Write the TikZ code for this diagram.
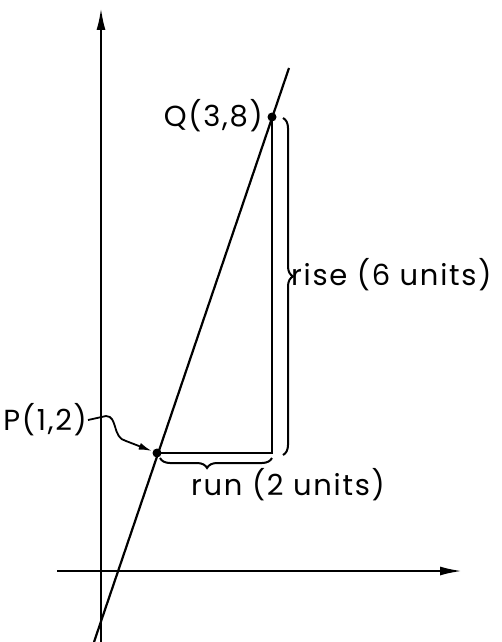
\documentclass[tikz,border=0pt]{standalone}
\usepackage{fontspec}
\setmainfont{Poppins}[LetterSpace=6]
\usetikzlibrary{arrows.meta,decorations.pathreplacing}

\begin{document}
\begin{tikzpicture}[x=1pt,y=-1pt,line width=2.2pt,>={Latex[length=22pt,width=9pt]},
  pt/.style={circle,fill,inner sep=0pt,minimum size=9pt},
  lab/.style={font=\fontsize{29}{33}\selectfont,inner sep=0pt},
  brc/.style={decorate,decoration={brace,amplitude=10pt},line width=2pt}]
  \useasboundingbox (0,0) rectangle (502,642);
  % axes
  \coordinate (ytop) at (101,8);
  \coordinate (ybot) at (101,642);
  \coordinate (xl) at (57,571);
  \coordinate (xr) at (462,571);
  \draw[->] (ybot)--(ytop);
  \draw[->] (xl)--(xr);
  % the two points and the line through them
  \node[pt] (P) at (157,453) {};
  \node[pt] (Q) at (272,117) {};
  \coordinate (lt) at (289,68);
  \coordinate (lb) at (94,642);
  \draw (lb)--(lt);
  \coordinate (R) at (Q |- P);
  \draw (P.center)--(R)--(Q.center);
  % braces
  \draw[brc,decoration={aspect=0.47}] (283,118) -- (283,455);
  \draw[brc,decoration={aspect=0.58}] (272,458) -- (160,458);
  % labels
  \node[lab,anchor=east] (qlab) at (264,116) {Q(3,8)};
  \node[lab,anchor=east] (plab) at (88,420) {P(1,2)};
  \node[lab,anchor=west] (rise) at (290,275) {rise (6 units)};
  \node[lab,anchor=west] (run) at (190,485) {run (2 units)};
  \draw[->,>={Latex[length=13pt,width=7pt]},line width=1.8pt] (plab.east) -- (106,416)
    .. controls (118,416) and (112,438) .. (126,441) -- (P);
\end{tikzpicture}
\end{document}
